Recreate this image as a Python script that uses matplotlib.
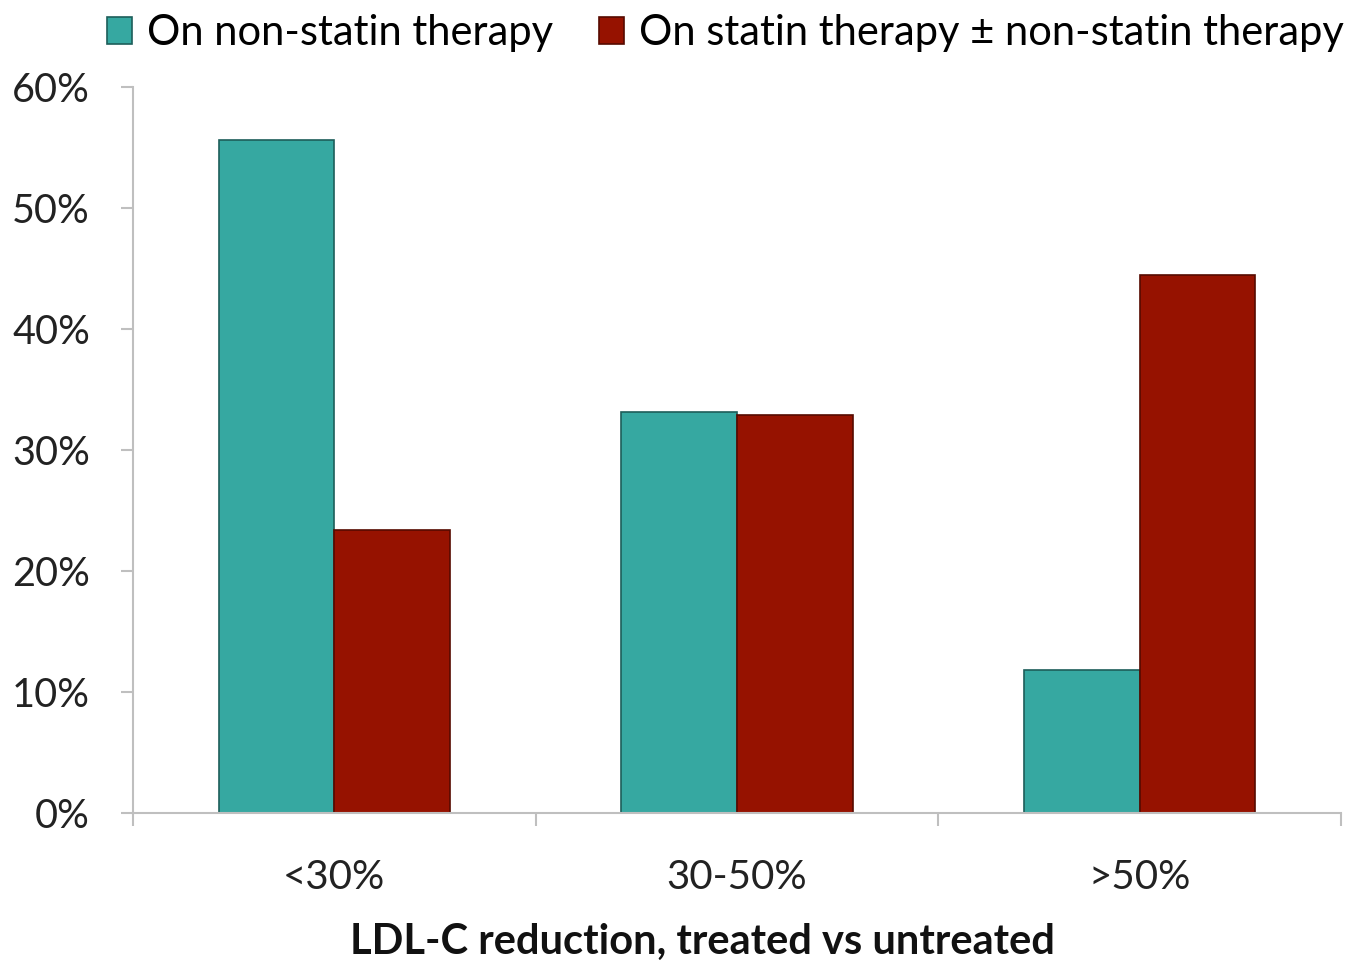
import numpy as np
import matplotlib
matplotlib.use('Agg')
import matplotlib.pyplot as plt
from matplotlib.patches import Patch

plt.rcParams['font.family'] = ['Lato', 'DejaVu Sans']

# data (percent of patients)
categories = ['<30%', '30-50%', '>50%']
non_statin = [55.6, 33.1, 11.8]
statin = [23.4, 32.9, 44.5]
series_names = ['On non-statin therapy', 'On statin therapy \u00b1 non-statin therapy']
yticks = [0, 10, 20, 30, 40, 50, 60]

teal = '#36a8a1'
teal_edge = '#1d5e5a'
red = '#961200'
red_edge = '#560a00'
axis_grey = '#bfbfbf'

fig = plt.figure(figsize=(13.61, 9.71), dpi=100)
ax = fig.add_axes([0.0977, 0.1627, 0.8876, 0.7477])

x = np.arange(len(categories))
w = 0.287
ax.bar(x - w / 2, non_statin, w, color=teal, edgecolor=teal_edge, linewidth=1.2)
ax.bar(x + w / 2, statin, w, color=red, edgecolor=red_edge, linewidth=1.2)

ax.set_xlim(-0.5, len(categories) - 0.5)
ax.set_ylim(0, 60)

for s in ['top', 'right']:
    ax.spines[s].set_visible(False)
for s in ['left', 'bottom']:
    ax.spines[s].set_color(axis_grey)
    ax.spines[s].set_linewidth(1.5)

ax.set_yticks(yticks)
ax.set_yticklabels([f'{v}%' for v in yticks], fontsize=28.5, color='#222222')
ax.tick_params(axis='y', length=9, width=1.5, color=axis_grey, pad=22)

ax.set_xticks(x)
ax.set_xticklabels(categories, fontsize=29, color='#222222')
ax.tick_params(axis='x', which='major', length=0, pad=33)
ax.set_xticks(np.arange(len(categories) + 1) - 0.5, minor=True)
ax.tick_params(axis='x', which='minor', length=9, width=1.5, color=axis_grey)

ax.set_xlabel('LDL-C reduction, treated vs untreated', fontsize=30,
              fontweight='bold', color='#111111')
ax.xaxis.set_label_coords(0.471, -0.152)

handles = [Patch(facecolor=teal, edgecolor=teal_edge, linewidth=1.2),
           Patch(facecolor=red, edgecolor=red_edge, linewidth=1.2)]
fig.legend(handles, series_names, loc='center', bbox_to_anchor=(0.533, 0.966),
           ncol=2, frameon=False, fontsize=30, handlelength=0.6, handleheight=0.6,
           handletextpad=0.35, columnspacing=1.1, borderpad=0, borderaxespad=0)

fig.savefig('out.png', dpi=100)
